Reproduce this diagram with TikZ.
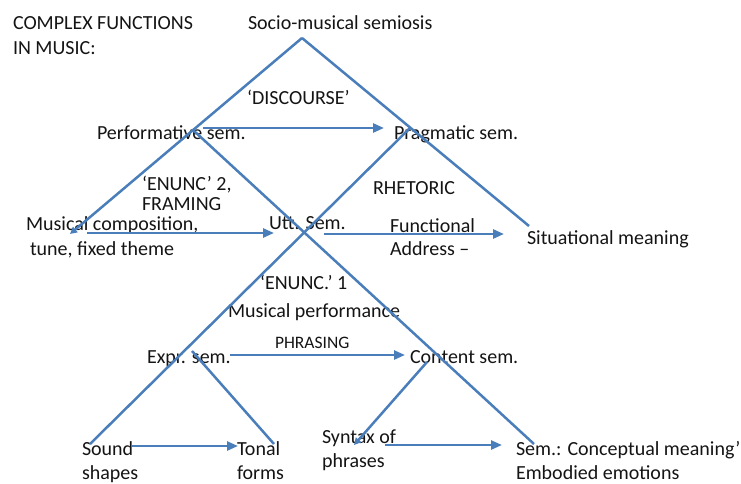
\documentclass[tikz,border=0pt]{standalone}
\usepackage{fontspec}
\setmainfont{Carlito}
\usetikzlibrary{arrows.meta}
\definecolor{lineblue}{RGB}{74,126,187}
\definecolor{txt}{RGB}{20,20,20}
\newcommand\twoline[3][0pt]{\begin{tabular}[t]{@{}l@{}}#2\\[#1]#3\end{tabular}}
\begin{document}
\begin{tikzpicture}[x=1pt,y=-1pt,
  every node/.style={inner sep=0pt,outer sep=0pt,text=txt,font=\fontsize{20}{25}\selectfont},
  lbl/.style={anchor=base west},
  small/.style={font=\fontsize{17.5}{21}\selectfont},
  conn/.style={draw=lineblue,line width=2.5pt},
  arr/.style={conn,-{Triangle[length=11pt,width=9pt]}},
  tip/.style={conn,-{Triangle[length=7pt,width=7pt]}}]
\useasboundingbox (0,0) rectangle (741,483);

% texts
\node[lbl] (title) at (13,29.5) {\twoline{COMPLEX FUNCTIONS}{IN MUSIC:}};
\node[lbl] (socio) at (248,29.5) {Socio-musical semiosis};
\node[lbl] (disc) at (247,104.5) {‘DISCOURSE’};
\node[lbl] (perf) at (97,139.5) {Performative sem.};
\node[lbl] (prag) at (394,139.5) {Pragmatic sem.};
\node[lbl] (enunc2) at (142,190.5) {\twoline[-5pt]{‘ENUNC’ 2,}{FRAMING}};
\node[lbl] (rhet) at (373,194.5) {RHETORIC};
\node[lbl] (comp) at (26,230.5) {\twoline{Musical composition,}{\hspace{4pt}tune, fixed theme}};
\node[lbl] (utt) at (269,229.5) {Utt. Sem.};
\node[lbl] (func) at (390,232.5) {\twoline[-2pt]{Functional}{Address –}};
\node[lbl] (sit) at (527,244.5) {Situational meaning};
\node[lbl] (enunc1) at (260,289.5) {‘ENUNC.’ 1};
\node[lbl] (mperf) at (228,317.5) {Musical performance};
\node[lbl,small] (phr) at (275,348.5) {PHRASING};
\node[lbl] (expr) at (147,363.5) {Expr. sem.};
\node[lbl] (cont) at (410,363.5) {Content sem.};
\node[lbl] (sound) at (82,455) {\twoline[-1pt]{Sound}{shapes}};
\node[lbl] (tonal) at (237,455) {\twoline[-1pt]{Tonal}{forms}};
\node[lbl] (synt) at (322,443) {\twoline[-1pt]{Syntax of}{phrases}};
\node[lbl] (semc) at (516,455) {\twoline[-1pt]{Sem.: Conceptual meaning’}{Embodied emotions}};

% line end points
\coordinate (apex) at (302,38);
\coordinate (lend) at (70,234);
\coordinate (rend) at (529,226);
\coordinate (perfP) at (193,130);
\coordinate (pragP) at (410,128);
\coordinate (aend) at (534,444);
\coordinate (bend) at (90,444);
\coordinate (exprP) at (192,351);
\coordinate (tonalP) at (274,444);
\coordinate (contP) at (427,362);
\coordinate (syntP) at (354,445);
% arrow end points
\coordinate (perfA) at (203,128);
\coordinate (pragA) at (384,128);
\coordinate (compA) at (87,233);
\coordinate (uttA) at (274,233);
\coordinate (uttB) at (324,234);
\coordinate (sitA) at (504,234);
\coordinate (exprA) at (230,355);
\coordinate (contA) at (405,355);
\coordinate (soundA) at (132,446);
\coordinate (tonalA) at (238,446);
\coordinate (syntA) at (385,445);
\coordinate (semA) at (502,445);

% triangle lines
\draw[tip] (apex) -- (lend);
\draw[conn] (apex) -- (rend);
\draw[conn] (perfP) -- (aend);
\draw[conn] (pragP) -- (bend);
\draw[conn] (exprP) -- (tonalP);
\draw[tip] (contP) -- (syntP);

% arrows
\draw[arr] (perfA) -- (pragA);
\draw[arr] (compA) -- (uttA);
\draw[arr] (uttB) -- (sitA);
\draw[arr] (exprA) -- (contA);
\draw[arr] (soundA) -- (tonalA);
\draw[arr] (syntA) -- (semA);
\end{tikzpicture}
\end{document}
